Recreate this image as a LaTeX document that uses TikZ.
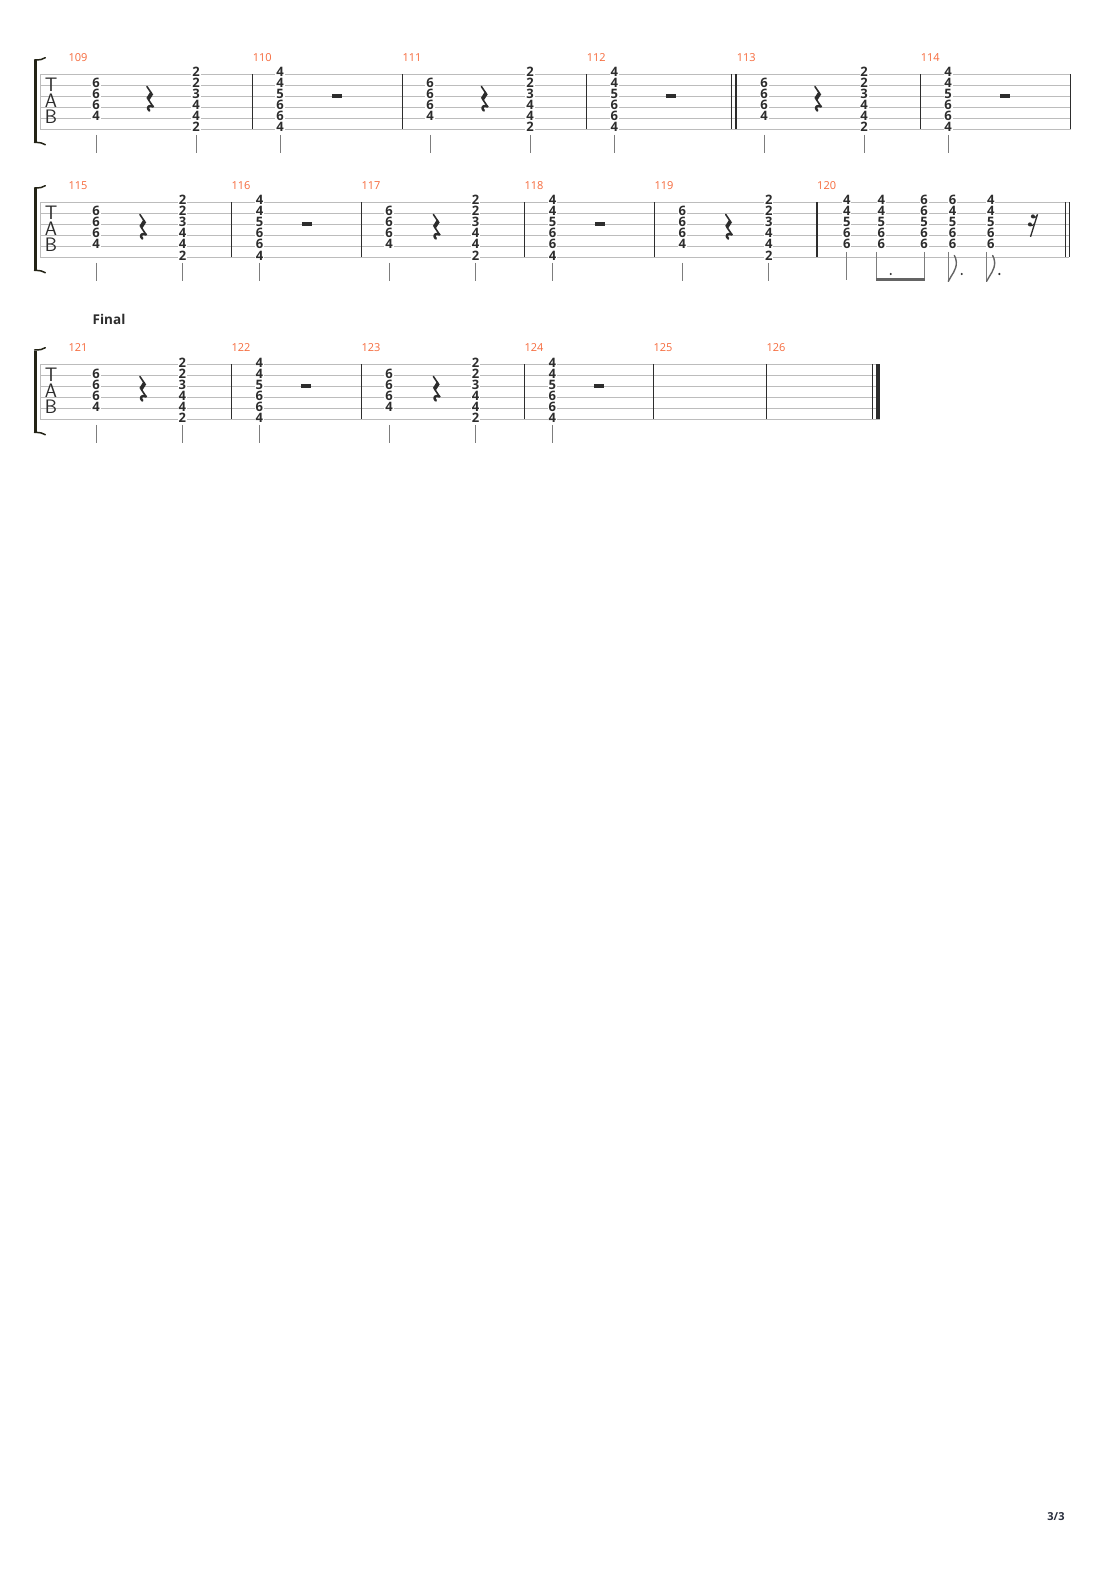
\documentclass[tikz,border=0pt]{standalone}
\usepackage{fontspec}
\setmainfont{Open Sans}
\newfontfamily\tabnum{Open Sans}
\definecolor{numorange}{RGB}{246,106,60}
\definecolor{staffgray}{RGB}{188,188,188}
\definecolor{bardark}{RGB}{45,45,45}
\definecolor{stemgray}{RGB}{125,125,125}
\definecolor{digit}{RGB}{45,45,45}
\definecolor{brack}{RGB}{35,35,22}
\definecolor{pagenum}{RGB}{40,45,60}
\tikzset{
 fret/.style={font=\tabnum\bfseries\fontsize{13}{13}\selectfont, text=digit, fill=white, inner xsep=0.8pt, inner ysep=0.4pt, anchor=base},
 mnum/.style={font=\tabnum\fontsize{11}{11}\selectfont, text=numorange, anchor=base west, inner sep=0pt},
 tabletter/.style={font=\sffamily\fontsize{19.5}{15.8}\selectfont, text=bardark, align=center, anchor=south, inner sep=0pt},
 staffline/.style={draw=staffgray, line width=1pt},
 barline/.style={draw=bardark, line width=1.1pt},
 stemline/.style={draw=stemgray, line width=0.9pt},
}
\def\chA{2/6,3/6,4/6,5/4}
\def\chB{1/2,2/2,3/3,4/4,5/4,6/2}
\def\chC{1/4,2/4,3/5,4/6,5/6,6/4}
\def\chD{1/4,2/4,3/5,4/6,5/6}
\def\chE{1/6,2/6,3/5,4/6,5/6}
\def\chF{1/6,2/4,3/5,4/6,5/6}
\newcommand\tbStaff[3]{%
  \foreach \i in {0,...,5}{\draw[staffline] (40,{#2+11*\i}) -- (#3,{#2+11*\i});}
  \draw[staffline] (40,#2) -- (40,{#2+55});
  \node[tabletter, name=TAB#1] at (51,{#2+49.2}) {T\\A\\B};
  \draw[draw=brack, line width=2.7pt] (35.3,{#2-13.8}) -- (35.3,{#2+67.6});
  \draw[draw=brack, line width=1.5pt, line cap=round] (34.6,{#2-14.3}) .. controls (40,{#2-14.3}) and (43,{#2-14.9}) .. (45.3,{#2-16.6});
  \draw[draw=brack, line width=1.5pt, line cap=round] (34.6,{#2+68.1}) .. controls (40,{#2+68.1}) and (43,{#2+68.7}) .. (45.3,{#2+70.4});
}
\newcommand\tbBar[2]{\draw[barline] (#1,#2) -- (#1,{#2+55});}
\newcommand\tbNum[3]{\node[mnum, name=m#3] at (#1,{#2-12.5}) {#3};}
\newcommand\tbChord[4]{\foreach \s/\f in #4 {\node[fret, name=#1s\s] at (#2,{#3+11*(\s-1)+2.7}) {\f};}}
\newcommand\tbStem[2]{\draw[stemline] (#1,{#2+60.5}) -- (#1,{#2+78.7});}
\newcommand\tbQrest[2]{\begin{scope}[shift={(#1,#2)}, color=bardark, line cap=round, line join=round]
 \draw[line width=1.6pt] (-2.6,12.2) -- (2.2,19.3);
 \draw[line width=3.8pt, line cap=butt] (2.2,18.8) -- (-1.6,24.8);
 \draw[line width=1.6pt] (-1.6,24.6) -- (3.5,32.2);
 \draw[line width=2.4pt] (3.5,32.2) .. controls (-0.5,30.3) and (-3.4,33.2) .. (-0.2,36.3);
\end{scope}}
\newcommand\tbHrest[2]{\fill[bardark] ({#1-5},{#2+19.3}) rectangle ({#1+5},{#2+24});}
\newcommand\tbMeasAB[5]{\tbChord{#1a}{#3}{#2}{\chA}\tbStem{#3}{#2}\tbQrest{#4}{#2}\tbChord{#1b}{#5}{#2}{\chB}\tbStem{#5}{#2}}
\newcommand\tbMeasC[4]{\tbChord{#1c}{#3}{#2}{\chC}\tbStem{#3}{#2}\tbHrest{#4}{#2}}
\newcommand\tbFlag[1]{%
  \draw[stemline] (#1,252) -- (#1,281.7);
  \draw[draw=stemgray!80!black, line width=1.4pt, line cap=round] (#1,281.3) .. controls ({#1+3},275) and ({#1+8.5},270) .. ({#1+8},262) .. controls ({#1+7.8},259) and ({#1+7},257) .. ({#1+6},255.5);
}
\begin{document}
\begin{tikzpicture}[x=1pt,y=-1pt]
\path[fill=white] (0,0) rectangle (1110,1570);
\useasboundingbox (0,0) rectangle (1110,1570);
% ---------------- row 1
\tbStaff{r1}{74.3}{1070.7}
\tbNum{68.3}{74.3}{109}\tbNum{252.7}{74.3}{110}\tbNum{402.3}{74.3}{111}
\tbNum{586.7}{74.3}{112}\tbNum{736.7}{74.3}{113}\tbNum{920.7}{74.3}{114}
\foreach \b in {252.7,402.3,586.7,731.7,736,920.7,1070.7}{\tbBar{\b}{74.3}}
\tbMeasAB{m109}{74.3}{96}{149.5}{196}
\tbMeasC{m110}{74.3}{280}{336.7}
\tbMeasAB{m111}{74.3}{430}{484}{530}
\tbMeasC{m112}{74.3}{614.3}{671}
\tbMeasAB{m113}{74.3}{764}{817.5}{864}
\tbMeasC{m114}{74.3}{948}{1005}
% ---------------- row 2
\tbStaff{r2}{202.3}{1069.3}
\tbNum{68.3}{202.3}{115}\tbNum{231.3}{202.3}{116}\tbNum{361.3}{202.3}{117}
\tbNum{524.3}{202.3}{118}\tbNum{654.3}{202.3}{119}\tbNum{817}{202.3}{120}
\foreach \b in {231.3,361.3,524.3,654.3,817,1065.7,1069.3}{\tbBar{\b}{202.3}}
\tbMeasAB{m115}{202.3}{96}{142.5}{182.7}
\tbMeasC{m116}{202.3}{259.7}{307}
\tbMeasAB{m117}{202.3}{389}{436}{475.7}
\tbMeasC{m118}{202.3}{552.7}{600}
\tbMeasAB{m119}{202.3}{682.3}{728.3}{768.7}
% measure 120
\tbChord{m120a}{846.7}{202.3}{\chD}
\tbChord{m120b}{881.2}{202.3}{\chD}
\tbChord{m120c}{924}{202.3}{\chE}
\tbChord{m120d}{952.5}{202.3}{\chF}
\tbChord{m120e}{990.7}{202.3}{\chD}
\draw[stemline] (846.7,252) -- (846.7,280.4);
\draw[stemline] (876.9,252) -- (876.9,279);
\draw[stemline] (924.2,252) -- (924.2,279);
\fill[stemgray!80!black] (876.45,278.2) rectangle (924.65,280.5);
\fill[bardark] (890.7,274) circle (1.2);
\tbFlag{948.3}
\tbFlag{986.6}
\fill[bardark] (961.7,274) circle (1.2);
\fill[bardark] (999.3,274) circle (1.2);
% sixteenth rest
\draw[bardark, line width=1.3pt] (1037.5,214.3) -- (1030.5,236.8);
\fill[bardark] (1032.9,216.4) circle (2);
\fill[bardark] (1029.9,224.4) circle (2);
\draw[bardark, line width=1pt] (1032.9,217.6) .. controls (1034.6,218.1) .. (1037.2,215.3);
\draw[bardark, line width=1pt] (1029.9,225.6) .. controls (1031.8,226.1) .. (1034.6,223.5);
% ---------------- row 3
\node[font=\tabnum\bfseries\fontsize{13.5}{13.5}\selectfont, text=bardark, anchor=base west, inner sep=0pt, name=final] at (92.5,324.3) {Final};
\tbStaff{r3}{364.3}{880}
\tbNum{68.3}{364.3}{121}\tbNum{231.3}{364.3}{122}\tbNum{361.3}{364.3}{123}
\tbNum{524.3}{364.3}{124}\tbNum{653.3}{364.3}{125}\tbNum{766.3}{364.3}{126}
\foreach \b in {231.3,361.3,524.3,653.3,766.3,872.3}{\tbBar{\b}{364.3}}
\fill[bardark] (876,364.3) rectangle (880,419.3);
\tbMeasAB{m121}{364.3}{96}{142.5}{182.3}
\tbMeasC{m122}{364.3}{259.3}{306}
\tbMeasAB{m123}{364.3}{389}{436}{475.5}
\tbMeasC{m124}{364.3}{552.3}{599}
% page number
\node[font=\tabnum\bfseries\fontsize{11}{11}\selectfont, text=pagenum, name=page] at (1056,1517) {3/3};
\end{tikzpicture}
\end{document}
